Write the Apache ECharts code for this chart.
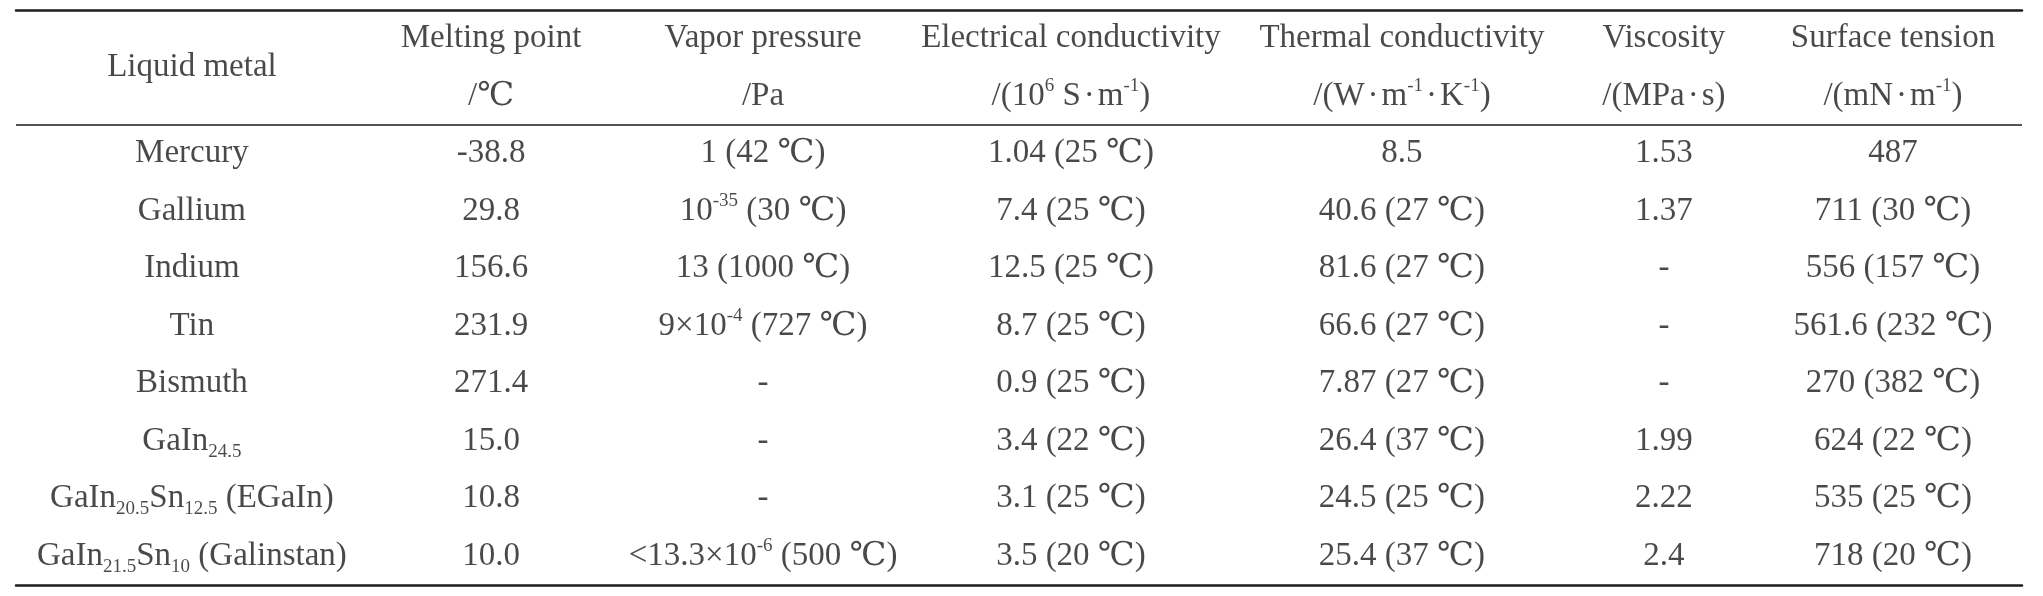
<!DOCTYPE html>
<html>
<head>
<meta charset="utf-8">
<title>Liquid metal properties</title>
<script src="https://cdn.jsdelivr.net/npm/echarts@6/dist/echarts.min.js"></script>
<style>
  html, body { margin: 0; padding: 0; background: #fff; }
  #main { width: 2043px; height: 596px; }
</style>
</head>
<body>
<div id="main"></div>
<script>
// table text, {sup|..} / {sub|..} mark super- and subscripts
var headers = ['Liquid metal', 'Melting point', 'Vapor pressure', 'Electrical conductivity',
    'Thermal conductivity', 'Viscosity', 'Surface tension'];
var units = ['', '/℃', '/Pa', '/(10{sup|6} S{dot|·}m{sup|-1})', '/(W{dot|·}m{sup|-1}{dot|·}K{sup|-1})',
    '/(MPa{dot|·}s)', '/(mN{dot|·}m{sup|-1})'];
var metals = ['Mercury', 'Gallium', 'Indium', 'Tin', 'Bismuth', 'GaIn{sub|24.5}',
    'GaIn{sub|20.5}Sn{sub|12.5} (EGaIn)', 'GaIn{sub|21.5}Sn{sub|10} (Galinstan)'];
var meltingPoint = ['-38.8', '29.8', '156.6', '231.9', '271.4', '15.0', '10.8', '10.0'];
var vaporPressure = ['1 (42 ℃)', '10{sup|-35} (30 ℃)', '13 (1000 ℃)', '9×10{sup|-4} (727 ℃)',
    '-', '-', '-', '<13.3×10{sup|-6} (500 ℃)'];
var electricalConductivity = ['1.04 (25 ℃)', '7.4 (25 ℃)', '12.5 (25 ℃)', '8.7 (25 ℃)',
    '0.9 (25 ℃)', '3.4 (22 ℃)', '3.1 (25 ℃)', '3.5 (20 ℃)'];
var thermalConductivity = ['8.5', '40.6 (27 ℃)', '81.6 (27 ℃)', '66.6 (27 ℃)',
    '7.87 (27 ℃)', '26.4 (37 ℃)', '24.5 (25 ℃)', '25.4 (37 ℃)'];
var viscosity = ['1.53', '1.37', '-', '-', '-', '1.99', '2.22', '2.4'];
var surfaceTension = ['487', '711 (30 ℃)', '556 (157 ℃)', '561.6 (232 ℃)',
    '270 (382 ℃)', '624 (22 ℃)', '535 (25 ℃)', '718 (20 ℃)'];

// layout: column centres in % of the table width
var colPos = [8.77, 23.68, 37.24, 52.59, 69.09, 82.15, 93.57];

var FONT = "'Liberation Serif', 'DejaVu Serif', serif";
var INK = '#1c1c1c';

var columns = [metals, meltingPoint, vaporPressure, electricalConductivity,
    thermalConductivity, viscosity, surfaceTension];
var rowKeys = ['head1', 'head2'];
var headRows = rowKeys.length;
metals.forEach(function (m, i) { rowKeys.push('row' + i); });

var cells = [];
headers.forEach(function (h, c) {
    if (c === 0) {
        // spans both header lines
        cells.push({ value: [colPos[c], 'head1'], text: h, label: { offset: [0, 28.75] } });
    } else {
        cells.push({ value: [colPos[c], 'head1'], text: h });
        cells.push({ value: [colPos[c], 'head2'], text: units[c] });
    }
});
columns.forEach(function (col, c) {
    col.forEach(function (t, r) {
        cells.push({ value: [colPos[c], 'row' + r], text: t });
    });
});

var hidden = {
    axisLine: { show: false }, axisTick: { show: false },
    axisLabel: { show: false }, splitLine: { show: false }
};

var chart = echarts.init(document.getElementById('main'), null, { renderer: 'canvas' });
chart.setOption({
    backgroundColor: '#fff',
    animation: false,
    grid: { left: 16, right: 21, top: 10, bottom: 11 },
    xAxis: [
        {
            type: 'value', min: 0, max: 100, position: 'top',
            axisLine: { show: true, onZero: false, lineStyle: { color: INK, width: 2.5 } },
            axisTick: { show: false }, axisLabel: { show: false }, splitLine: { show: false }
        },
        {
            type: 'value', min: 0, max: 100, position: 'bottom',
            axisLine: { show: true, onZero: false, lineStyle: { color: INK, width: 2.5 } },
            axisTick: { show: false }, axisLabel: { show: false }, splitLine: { show: false }
        }
    ],
    yAxis: [
        Object.assign({ type: 'category', data: rowKeys, inverse: true }, hidden),
        // row-count scale, used for the rule under the header
        Object.assign({ type: 'value', min: 0, max: rowKeys.length, inverse: true }, hidden)
    ],
    series: [{
        type: 'scatter',
        xAxisIndex: 0,
        yAxisIndex: 0,
        symbolSize: 1,
        itemStyle: { color: 'rgba(0,0,0,0)' },
        silent: true,
        data: cells,
        label: {
            show: true,
            position: 'inside',
            color: INK,
            fontFamily: FONT,
            fontSize: 33,
            lineHeight: 40,
            formatter: function (p) { return p.data.text; },
            rich: {
                sup: { fontFamily: FONT, fontSize: 19, color: INK, verticalAlign: 'top', lineHeight: 40 },
                sub: { fontFamily: FONT, fontSize: 19, color: INK, verticalAlign: 'bottom', lineHeight: 40 },
                dot: { fontFamily: FONT, fontSize: 33, color: INK, padding: [0, 3, 0, 3], lineHeight: 40 }
            }
        }
    }, {
        type: 'line',
        xAxisIndex: 0,
        yAxisIndex: 1,
        data: [],
        silent: true,
        markLine: {
            symbol: 'none',
            silent: true,
            label: { show: false },
            lineStyle: { color: INK, width: 1.5, type: 'solid' },
            data: [{ yAxis: headRows }]
        }
    }]
});
</script>
</body>
</html>
